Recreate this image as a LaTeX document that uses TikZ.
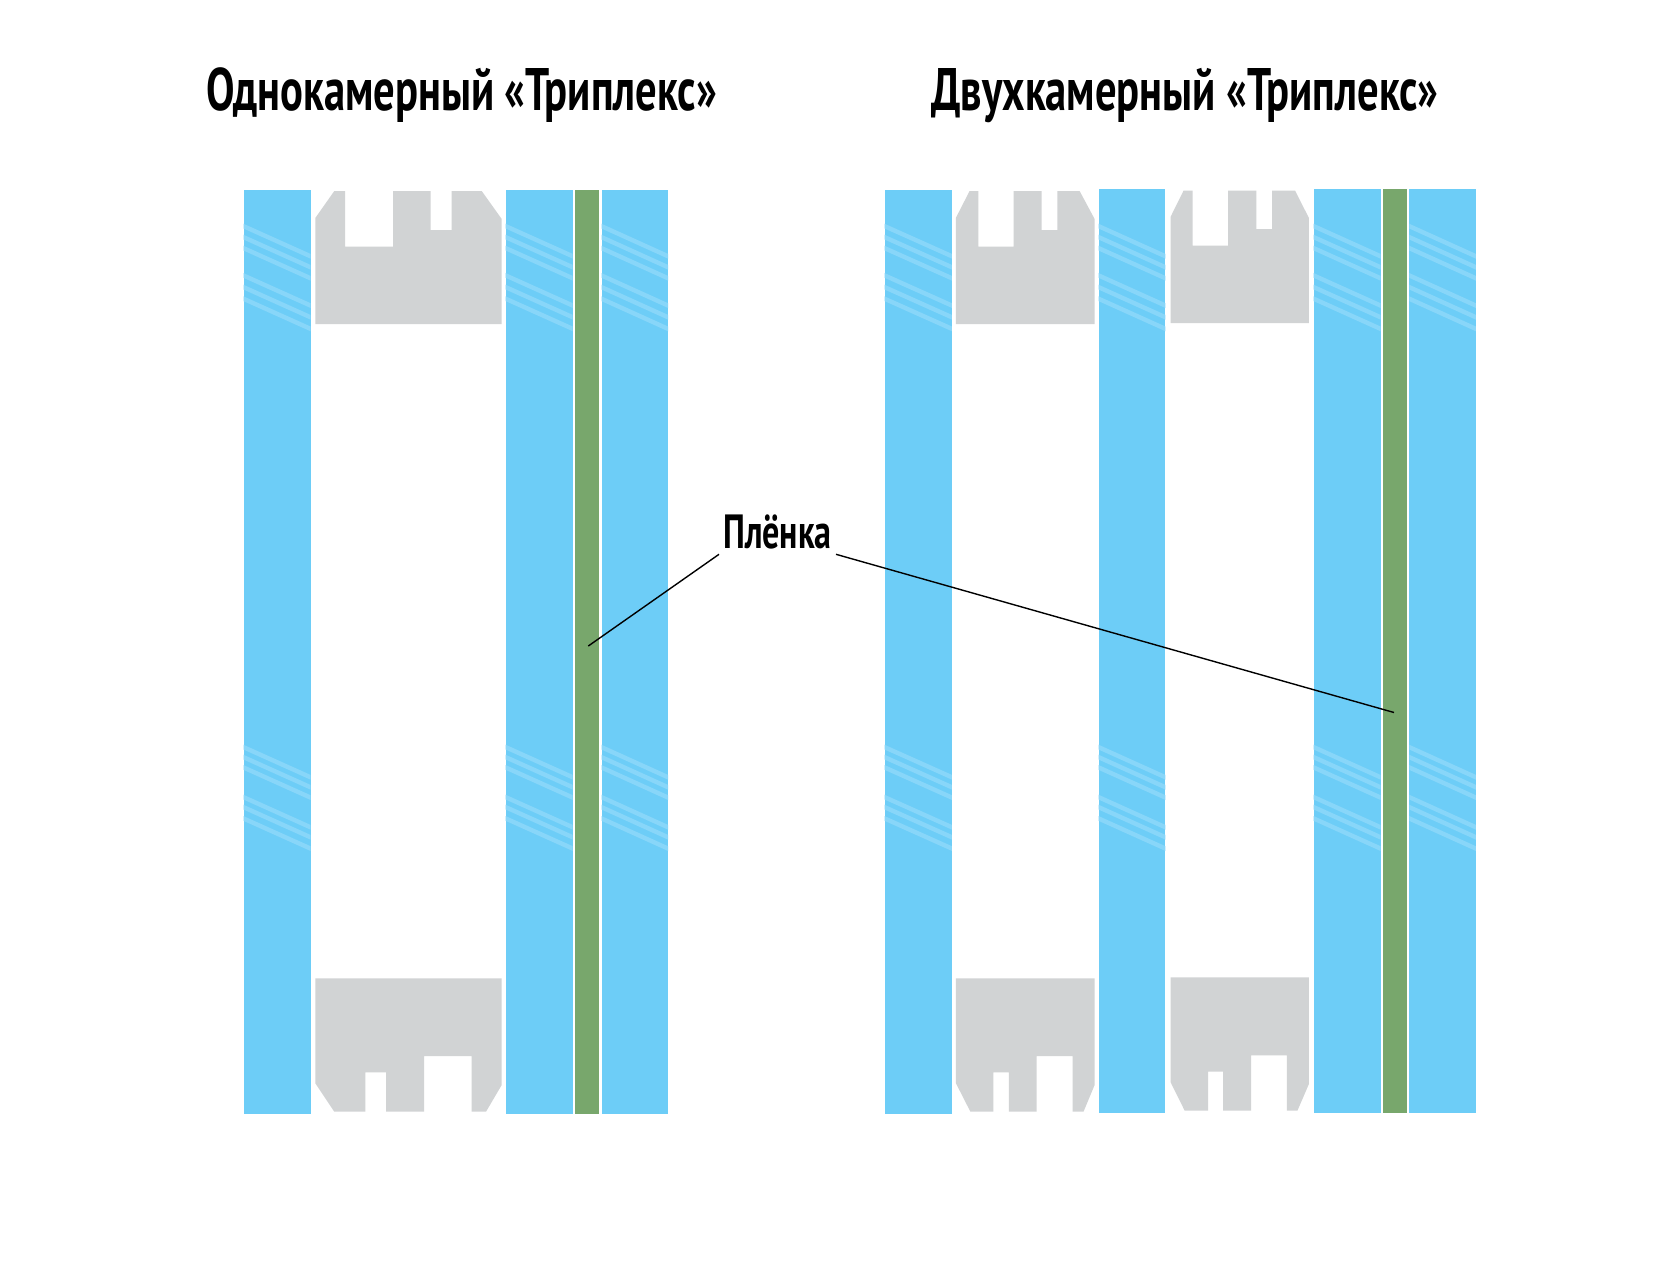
\documentclass[tikz,border=0pt]{standalone}
\usepackage{fontspec}
\newfontfamily\dinfont[FakeStretch=0.71]{PT Sans}
\definecolor{glassblue}{HTML}{6DCDF7}
\definecolor{glassglint}{HTML}{88D6F9}
\definecolor{filmgreen}{HTML}{78A76C}
\definecolor{spacergray}{HTML}{D1D3D4}
\newcommand{\glasspane}[4]{%
  \fill[glassblue] (#1,#3) rectangle (#2,#4);
  \begin{scope}
    \clip (#1,#3) rectangle (#2,#4);
    \foreach \yy in {225.7,236.7,247.7,275,286.7,298.3,746.7,756.7,767,796.7,806.7,818}
      \draw[glint] (#1-1,\yy) -- (#2+1,\yy+31);
  \end{scope}}
\tikzset{
  x=1pt,y=-1pt,
  glint/.style={glassglint,line width=4.4pt},
  film/.style={fill=filmgreen},
  spacer/.style={fill=spacergray},
  titletext/.style={font=\dinfont\bfseries\fontsize{60}{64}\selectfont,text=black,anchor=base,inner sep=0pt},
  filmlabel/.style={font=\dinfont\bfseries\fontsize{48}{52}\selectfont,text=black,anchor=base,inner xsep=0pt,inner ysep=6.3pt,outer sep=0pt,minimum width=117pt,text depth=0pt},
  leader/.style={draw=black,line width=1.4pt}
}
\begin{document}
\begin{tikzpicture}
\useasboundingbox (0,0) rectangle (1680,1282);
\fill[white] (0,0) rectangle (1680,1282);
% titles
\node[titletext] (title1) at (461.5,110.5) {Однокамерный «Триплекс»};
\node[titletext] (title2) at (1185,110.5) {Двухкамерный «Триплекс»};
% single-chamber unit
\glasspane{243.5}{310.5}{190}{1113.6}
\glasspane{505.7}{572.7}{190}{1113.6}
\glasspane{601.5}{668}{190}{1113.6}
\fill[film] (575.3,190) rectangle (598.7,1113.6);
\fill[spacer] (315.3,218) -- (334.3,191) -- (345,191) -- (345,246.7) -- (393,246.7) -- (393,191) -- (430.7,191) -- (430.7,230) -- (451.7,230) -- (451.7,191) -- (481.7,191) -- (501.7,219) -- (501.7,324) -- (315.3,324) -- cycle;
\fill[spacer] (315.3,978.3) -- (501.7,978.3) -- (501.7,1085) -- (486,1111.7) -- (471.7,1111.7) -- (471.7,1056) -- (424,1056) -- (424,1111.7) -- (386,1111.7) -- (386,1072.3) -- (365.3,1072.3) -- (365.3,1111.7) -- (334.3,1111.7) -- (315.3,1083.3) -- cycle;
% double-chamber unit
\glasspane{884.6}{951.9}{190}{1113.6}
\glasspane{1098.6}{1165.4}{189.3}{1113}
\glasspane{1313.7}{1380.5}{189.3}{1113}
\glasspane{1409.3}{1475.8}{189.3}{1113}
\fill[film] (1383.2,189) rectangle (1406.6,1113);
\fill[spacer] (955.8,218) -- (969.6,191) -- (978.3,191) -- (978.3,246.7) -- (1013.5,246.7) -- (1013.5,191) -- (1041.6,191) -- (1041.6,230) -- (1057.4,230) -- (1057.4,191) -- (1079.6,191) -- (1094.6,219) -- (1094.6,324) -- (955.8,324) -- cycle;
\fill[spacer] (1170.5,217) -- (1183.6,190.5) -- (1192.7,190.5) -- (1192.7,245.7) -- (1228.2,245.7) -- (1228.2,190.5) -- (1256.3,190.5) -- (1256.3,229) -- (1272.1,229) -- (1272.1,190.5) -- (1295,190.5) -- (1308.9,218) -- (1308.9,323) -- (1170.5,323) -- cycle;
\fill[spacer] (955.8,978.3) -- (1094.6,978.3) -- (1094.6,1085) -- (1083.5,1111.7) -- (1072.5,1111.7) -- (1072.5,1056) -- (1036.5,1056) -- (1036.5,1111.7) -- (1008.8,1111.7) -- (1008.8,1072.3) -- (993.4,1072.3) -- (993.4,1111.7) -- (970.4,1111.7) -- (955.8,1083) -- cycle;
\fill[spacer] (1170.5,977.3) -- (1308.9,977.3) -- (1308.9,1084) -- (1297.4,1110.7) -- (1286.8,1110.7) -- (1286.8,1055.3) -- (1251.2,1055.3) -- (1251.2,1110.7) -- (1223.1,1110.7) -- (1223.1,1071.7) -- (1208,1071.7) -- (1208,1110.7) -- (1184.7,1110.7) -- (1170.5,1082) -- cycle;
% label and leaders
\node[filmlabel] (filmtext) at (777.5,548) {Плёнка};
\coordinate (filmA) at (588.3,646);
\coordinate (filmB) at (1394,712.5);
\draw[leader] (filmtext.south west) -- (filmA);
\draw[leader] (filmtext.south east) -- (filmB);
\end{tikzpicture}
\end{document}
